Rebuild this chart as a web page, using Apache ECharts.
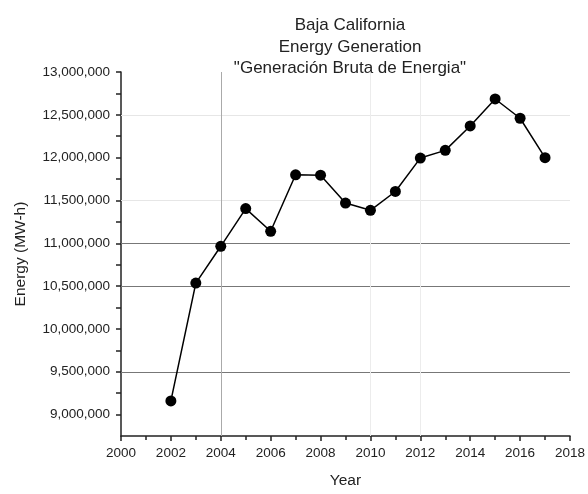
<!DOCTYPE html>
<html>
<head>
<meta charset="utf-8">
<script src="https://cdn.jsdelivr.net/npm/echarts@6/dist/echarts.min.js"></script>
<style>html,body{margin:0;padding:0;background:#fff}#c{width:588px;height:494px}</style>
</head>
<body>
<div id="c"></div>
<script>
const years = [2002,2003,2004,2005,2006,2007,2008,2009,2010,2011,2012,2013,2014,2015,2016,2017];
const energy = [9160000,10535000,10965000,11405000,11140000,11800000,11795000,11470000,11385000,11605000,11995000,12085000,12370000,12685000,12460000,12000000];
const yTickLabels = [9000000,9500000,10000000,10500000,11000000,11500000,12000000,12500000,13000000];
const yTicks = [9000000,9250000,9500000,9750000,10000000,10250000,10500000,10750000,11000000,11250000,11500000,11750000,12000000,12250000,12500000,12750000,13000000];
const hGridDark = [9500000,10500000,11000000];
const hGridLight = [11500000,12500000];
const vGridDark = [2004];
const vGridLight = [2010,2012];
const titleLines = ['Baja California','Energy Generation','"Generación Bruta de Energia"'];

const font = 'Liberation Sans, Arial, sans-serif';
const chart = echarts.init(document.getElementById('c'));
const markData = [].concat(
  hGridDark.map(v => ({yAxis: v, lineStyle: {color: '#777', width: 1, type: 'solid'}})),
  hGridLight.map(v => ({yAxis: v, lineStyle: {color: '#e6e6e6', width: 1, type: 'solid'}})),
  vGridDark.map(v => ({xAxis: v, lineStyle: {color: '#aaa', width: 1, type: 'solid'}})),
  vGridLight.map(v => ({xAxis: v, lineStyle: {color: '#ececec', width: 1, type: 'solid'}}))
);
chart.setOption({
  animation: false,
  backgroundColor: '#fff',
  title: {
    text: titleLines.join('\n'),
    left: 345, top: 10, textAlign: 'center',
    textStyle: {fontFamily: font, fontSize: 17, fontWeight: 'normal', color: '#222', lineHeight: 21.5}
  },
  grid: {left: 121, right: 16, top: 72, bottom: 55},
  xAxis: {
    type: 'value', min: 2000, max: 2018, interval: 2,
    name: 'Year', nameLocation: 'middle', nameGap: 37,
    nameTextStyle: {fontFamily: font, fontSize: 15.5, color: '#222'},
    axisLine: {lineStyle: {color: '#222', width: 1.5}},
    axisTick: {show: true, length: 5, lineStyle: {color: '#222', width: 1.5}},
    minorTick: {show: true, splitNumber: 2, length: 4, lineStyle: {color: '#222', width: 1.5}},
    axisLabel: {fontFamily: font, fontSize: 13.5, color: '#222', margin: 10, formatter: v => String(v)},
    splitLine: {show: false}
  },
  yAxis: {
    type: 'value', min: 8750000, max: 13000000,
    name: 'Energy (MW-h)', nameLocation: 'middle', nameGap: 92, nameRotate: 90,
    nameTextStyle: {fontFamily: font, fontSize: 15.5, color: '#222'},
    axisLine: {show: true, lineStyle: {color: '#222', width: 1.5}},
    axisTick: {show: true, length: 5, customValues: yTicks, lineStyle: {color: '#222', width: 1.5}},
    axisLabel: {fontFamily: font, fontSize: 13.5, color: '#222', margin: 11, customValues: yTickLabels,
      formatter: v => Number(v).toLocaleString('en-US')},
    splitLine: {show: false}
  },
  series: [{
    type: 'line',
    data: years.map((y, i) => [y, energy[i]]),
    symbol: 'circle', symbolSize: 11,
    lineStyle: {color: '#000', width: 1.5},
    itemStyle: {color: '#000'},
    z: 5,
    markLine: {silent: true, symbol: 'none', label: {show: false}, z: 1, data: markData}
  }]
});
</script>
</body>
</html>
